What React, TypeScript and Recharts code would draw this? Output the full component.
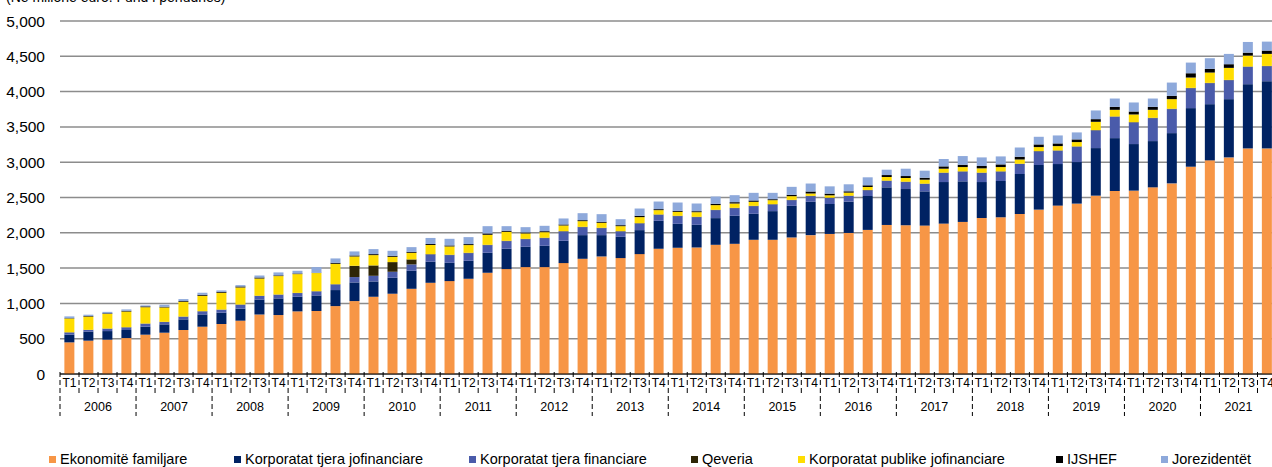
import React from 'react';
import { BarChart, Bar, XAxis, YAxis, CartesianGrid } from 'recharts';

// quarterly stock, millions of euro, 2006 T1 .. 2021 T4
const YEARS = ['2006', '2007', '2008', '2009', '2010', '2011', '2012', '2013', '2014', '2015', '2016', '2017', '2018', '2019', '2020', '2021'];
const QUARTERS = ['T1', 'T2', 'T3', 'T4'];
const Y_TICKS = [0, 500, 1000, 1500, 2000, 2500, 3000, 3500, 4000, 4500, 5000];

const familjare = [
  448, 472, 486, 509, 557, 585, 623, 670, 708, 755, 844, 835, 887, 892, 962, 1033,
  1094, 1137, 1207, 1292, 1316, 1349, 1434, 1486, 1514, 1514, 1571, 1632, 1665, 1642, 1698, 1774,
  1788, 1792, 1830, 1844, 1901, 1901, 1934, 1967, 1984, 1998, 2041, 2111, 2107, 2102, 2130, 2154,
  2210, 2220, 2267, 2328, 2385, 2413, 2526, 2592, 2597, 2644, 2700, 2936, 3026, 3068, 3195, 3195,
];
const jofinanciare = [
  110, 127, 122, 114, 113, 118, 151, 174, 160, 170, 213, 236, 207, 221, 227, 264,
  217, 226, 255, 298, 259, 255, 283, 288, 288, 302, 316, 335, 302, 301, 340, 396,
  339, 321, 378, 397, 368, 406, 448, 472, 424, 443, 480, 533, 513, 485, 589, 575,
  509, 514, 565, 632, 589, 589, 674, 749, 660, 655, 712, 830, 796, 825, 910, 952,
];
const financiare = [
  30, 24, 33, 37, 42, 33, 37, 43, 42, 56, 47, 52, 52, 57, 80, 76,
  80, 85, 90, 103, 109, 108, 108, 108, 108, 109, 132, 113, 99, 76, 94, 85,
  109, 109, 113, 108, 108, 94, 80, 80, 85, 80, 81, 90, 99, 104, 128, 137,
  128, 132, 142, 193, 188, 217, 250, 302, 306, 325, 340, 282, 297, 268, 245, 212,
];
const qeveria = [
  3, 3, 3, 3, 3, 3, 3, 3, 3, 3, 3, 3, 3, 3, 3, 160,
  147, 137, 71, 5, 5, 5, 5, 5, 5, 5, 5, 5, 5, 5, 5, 5,
  5, 5, 5, 5, 5, 5, 5, 5, 5, 5, 5, 5, 5, 5, 5, 5,
  5, 5, 5, 5, 5, 5, 5, 5, 5, 5, 5, 5, 5, 5, 5, 5,
];
const publike = [
  195, 188, 208, 222, 231, 204, 210, 218, 238, 242, 247, 261, 266, 257, 289, 132,
  146, 75, 94, 130, 118, 109, 142, 127, 76, 79, 80, 80, 71, 70, 85, 61,
  56, 65, 66, 61, 57, 56, 52, 33, 33, 43, 42, 51, 52, 56, 56, 60,
  61, 60, 61, 56, 61, 61, 117, 94, 108, 113, 136, 146, 146, 170, 155, 170,
];
const ijshef = [
  5, 8, 8, 10, 12, 10, 10, 14, 14, 14, 14, 10, 9, 4, 14, 14,
  14, 14, 14, 14, 14, 14, 19, 14, 14, 14, 14, 14, 14, 14, 19, 14,
  14, 14, 19, 19, 19, 14, 19, 28, 24, 19, 24, 28, 28, 28, 33, 33,
  33, 38, 37, 38, 38, 38, 38, 42, 42, 42, 47, 61, 52, 52, 42, 47,
];
const jorezidentet = [
  25, 18, 20, 20, 14, 28, 27, 29, 19, 19, 28, 42, 38, 80, 62, 57,
  71, 71, 66, 85, 94, 99, 103, 66, 75, 76, 85, 99, 108, 85, 103, 108,
  118, 109, 103, 99, 108, 90, 113, 113, 103, 99, 113, 76, 104, 100, 104, 123,
  122, 113, 132, 108, 113, 99, 123, 118, 128, 118, 188, 151, 151, 146, 151, 127,
];

const SERIES_KEYS = ['familjare', 'jofinanciare', 'financiare', 'qeveria', 'publike', 'ijshef', 'jorezidentet'];
const SERIES_NAMES = [
  'Ekonomitë familjare',
  'Korporatat tjera jofinanciare',
  'Korporatat tjera financiare',
  'Qeveria',
  'Korporatat publike jofinanciare',
  'IJSHEF',
  'Jorezidentët',
];
const SERIES_VALUES = [familjare, jofinanciare, financiare, qeveria, publike, ijshef, jorezidentet];
const COLORS = ['#F79646', '#002263', '#4A5BAA', '#2E2506', '#FFDD00', '#000000', '#8EA9DB'];
// legend item left edges, as laid out in the original
const LEGEND_LEFT = [49, 234, 469, 691, 798, 1056, 1161];

const rows = familjare.map((_, i) => {
  const row: Record<string, any> = {
    id: `${YEARS[Math.floor(i / 4)]} ${QUARTERS[i % 4]}`,
    quarter: QUARTERS[i % 4],
    year: YEARS[Math.floor(i / 4)],
  };
  SERIES_KEYS.forEach((k, s) => (row[k] = SERIES_VALUES[s][i]));
  return row;
});

const FONT = '"Liberation Sans", Arial, sans-serif';

const QuarterTick = (props: any) => {
  const { x, y, payload, width } = props;
  const idx = payload.index;
  const row = rows[idx];
  if (!row) return null;
  const half = payload.offset || width / rows.length / 2;
  const left = x - half;
  const isYearStart = idx % 4 === 0;
  const isLast = idx === rows.length - 1;
  return (
    <g>
      <line x1={left} x2={left} y1={y - 2} y2={isYearStart ? y + 42 : y + 19} stroke="#000" strokeWidth={1} strokeDasharray="5 3" />
      {isLast && (
        <line x1={x + half} x2={x + half} y1={y - 2} y2={y + 42} stroke="#000" strokeWidth={1} strokeDasharray="5 3" />
      )}
      <text x={x} y={y + 13} textAnchor="middle" fontSize={12} fill="#000" fontFamily={FONT}>
        {row.quarter}
      </text>
      {isYearStart && (
        <text x={x + half * 3} y={y + 37} textAnchor="middle" fontSize={12.5} fill="#000" fontFamily={FONT}>
          {row.year}
        </text>
      )}
    </g>
  );
};

export default function App() {
  return (
    <div style={{ position: 'absolute', left: 0, top: 0, width: 1272, height: 467, overflow: 'hidden', background: '#fff', fontFamily: FONT }}>
      <div style={{ position: 'absolute', left: 6, top: -10.5, fontSize: 14, lineHeight: '14px', color: '#000', whiteSpace: 'nowrap' }}>
        (Në milionë euro. Fund i periudhës)
      </div>
      <BarChart
        width={1292}
        height={467}
        data={rows}
        margin={{ top: 21, right: 15.5, left: 0, bottom: 43 }}
        barCategoryGap="23%"
      >
        <CartesianGrid vertical={false} stroke="#8c8c8c" strokeWidth={1.5} />
        <XAxis
          dataKey="id"
          interval={0}
          height={50}
          tickLine={false}
          tickSize={0}
          tickMargin={0}
          axisLine={{ stroke: '#000', strokeWidth: 1 }}
          tick={<QuarterTick />}
        />
        <YAxis
          width={60}
          domain={[0, 5000]}
          ticks={Y_TICKS}
          interval={0}
          axisLine={false}
          tickLine={false}
          tickSize={6}
          tickMargin={9}
          tickFormatter={(v: number) => v.toLocaleString('en-US')}
          tick={{ fontSize: 15.5, fill: '#000', fontFamily: FONT }}
        />
        {SERIES_KEYS.map((k, s) => (
          <Bar key={k} dataKey={k} name={SERIES_NAMES[s]} stackId="a" fill={COLORS[s]} isAnimationActive={false} />
        ))}
      </BarChart>
      {SERIES_NAMES.map((name, s) => (
        <div
          key={name}
          style={{ position: 'absolute', left: LEGEND_LEFT[s], top: 450, height: 18, display: 'flex', alignItems: 'center', fontSize: 14.5, color: '#000', whiteSpace: 'nowrap' }}
        >
          <span style={{ display: 'inline-block', width: 7, height: 7, background: COLORS[s], marginRight: 4 }} />
          {name}
        </div>
      ))}
    </div>
  );
}
